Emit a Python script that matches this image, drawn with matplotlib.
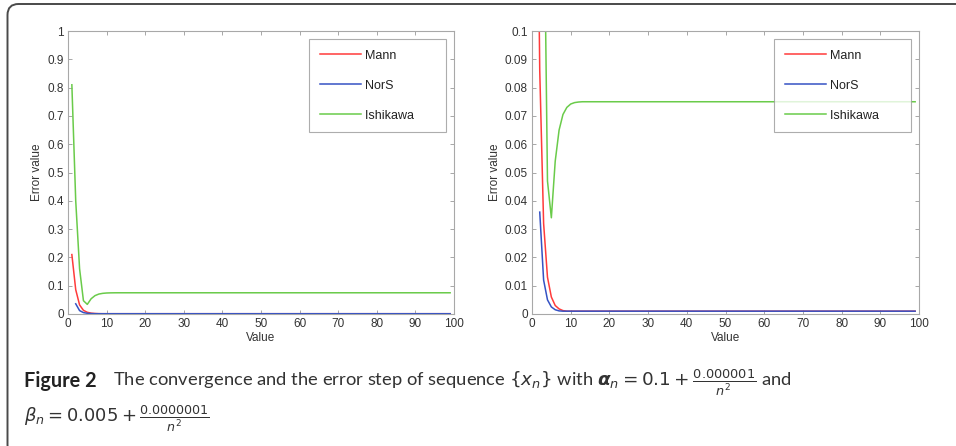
import matplotlib
matplotlib.use("Agg")
import matplotlib.pyplot as plt
from matplotlib.patches import FancyBboxPatch

# ---- data ----
n_mann = list(range(1, 100))
mann = [0.21, 0.086, 0.032, 0.013, 0.006, 0.003, 0.0018, 0.0012] + [0.001] * 91
n_nors = list(range(2, 100))
nors = [0.036, 0.012, 0.005, 0.0025, 0.0015, 0.0011] + [0.001] * 92
n_ish = list(range(1, 100))
ishikawa = [0.81, 0.40, 0.16, 0.047, 0.034, 0.054, 0.065, 0.0705, 0.073, 0.0742,
            0.0747, 0.0749] + [0.075] * 87

labels = ["Mann", "NorS", "Ishikawa"]
colors = ["#ff3b3b", "#3552c4", "#6acb4a"]
xticks = list(range(0, 101, 10))
left_yticks = [0, 0.1, 0.2, 0.3, 0.4, 0.5, 0.6, 0.7, 0.8, 0.9, 1]
left_yticklabels = ["0", "0.1", "0.2", "0.3", "0.4", "0.5", "0.6", "0.7", "0.8", "0.9", "1"]
right_yticks = [0, 0.01, 0.02, 0.03, 0.04, 0.05, 0.06, 0.07, 0.08, 0.09, 0.1]
right_yticklabels = ["0", "0.01", "0.02", "0.03", "0.04", "0.05", "0.06", "0.07", "0.08", "0.09", "0.1"]

plt.rcParams['font.family'] = ['Liberation Sans', 'DejaVu Sans']

W, H = 956, 446
fig = plt.figure(figsize=(W / 100, H / 100), dpi=100)

# outer rounded frame (inches, 100 px per inch)
frame = FancyBboxPatch((7.5 / 100, -10 / 100), 970 / 100, (446 - 4 + 10) / 100,
                       boxstyle="round,pad=0,rounding_size=0.11",
                       transform=fig.dpi_scale_trans, fill=False,
                       edgecolor="#4a4a4a", linewidth=1.4, clip_on=False)
fig.patches.append(frame)

tick_col = "#333333"
edge_col = "#a8a8a8"


def make_axes(x0px, wpx, yticks, yticklabels, ylim):
    ax = fig.add_axes([x0px / W, 1 - 314 / H, wpx / W, 283 / H])
    series = [(n_mann, mann), (n_nors, nors), (n_ish, ishikawa)]
    for (xs, ys), lab, c in zip(series, labels, colors):
        ax.plot(xs, ys, color=c, lw=1.1, label=lab)
    ax.set_xlim(0, 100)
    ax.set_ylim(*ylim)
    ax.set_xticks(xticks)
    ax.set_yticks(yticks)
    ax.set_yticklabels(yticklabels)
    ax.tick_params(direction="in", length=3, width=0.6, color="#999999",
                   labelsize=8.5, labelcolor=tick_col, top=True, right=True, pad=3)
    for s in ax.spines.values():
        s.set_color(edge_col)
        s.set_linewidth(0.8)
    ax.set_xlabel("Value", fontsize=8.5, color=tick_col, labelpad=1)
    ax.set_ylabel("Error value", fontsize=8.5, color=tick_col, labelpad=3)
    leg = ax.legend(loc="upper right", bbox_to_anchor=(0.979, 0.972),
                    fontsize=9, frameon=True, fancybox=False,
                    handlelength=3.3, handletextpad=0.35, labelspacing=1.45,
                    borderpad=0.85, borderaxespad=0)
    leg.get_frame().set_edgecolor("#999999")
    leg.get_frame().set_linewidth(0.8)
    for t in leg.get_texts():
        t.set_color("#222222")
        t.set_text(t.get_text() + "      ")
    return ax


make_axes(68, 386, left_yticks, left_yticklabels, (0, 1))
make_axes(532, 387, right_yticks, right_yticklabels, (0, 0.1))

cap_font = ['Lato', 'DejaVu Sans']
fig.text(24 / W, 1 - 387 / H, "Figure 2", fontsize=14.3, fontweight="bold",
         family=cap_font, color="#222222", va="baseline")
fig.text(113 / W, 1 - 387 / H,
         r"The convergence and the error step of sequence $\{x_n\}$ with "
         r"$\boldsymbol{\alpha}_n = 0.1 + \frac{0.000001}{n^2}$ and",
         fontsize=13.2, family=cap_font, color="#333333", va="baseline")
fig.text(24 / W, 1 - 423 / H,
         r"$\beta_n = 0.005 + \frac{0.0000001}{n^2}$",
         fontsize=13.0, family=cap_font, color="#333333", va="baseline")

fig.savefig("out.png", dpi=100)
